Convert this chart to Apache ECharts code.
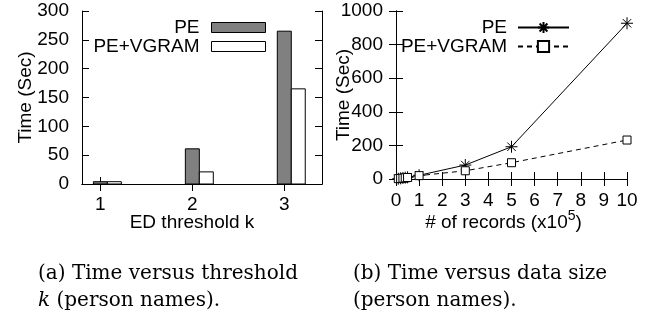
<!DOCTYPE html>
<html>
<head>
<meta charset="utf-8">
<script src="https://cdn.jsdelivr.net/npm/echarts@6/dist/echarts.min.js"></script>
<style>
html,body{margin:0;padding:0;background:#fff;}
#c{width:659px;height:322px;}
</style>
</head>
<body>
<div id="c"></div>
<script>
// ---- data (a): time vs threshold k ----
const kValues = [1, 2, 3];
const peTimeK = [4, 61, 265];
const vgramTimeK = [4, 21, 165];

// ---- data (b): time vs data size ----
const records = [0.1, 0.2, 0.3, 0.4, 0.5, 1, 3, 5, 10];
const peTimeN = [2, 4, 6, 8, 10, 22, 83, 192, 927];
const vgramTimeN = [2, 3, 5, 7, 9, 20, 49, 97, 232];

const FONT = 'Liberation Sans';
const FS = 19;
const BAR_W = 0.152;

function barRenderer(side) {
  return function (params, api) {
    const k = api.value(0), v = api.value(1);
    const base = api.coord([k, 0]);
    const top = api.coord([k, v]);
    const w = api.size([BAR_W, 0])[0];
    const x0 = side === 0 ? base[0] - w / 2 : base[0] + w / 2;
    return {
      type: 'rect',
      shape: { x: x0, y: top[1], width: w, height: base[1] - top[1] },
      style: api.style()
    };
  };
}

const axisLineStyle = { show: true, lineStyle: { color: '#000', width: 1 } };
const tickStyle = { show: true, inside: true, length: 7, lineStyle: { color: '#000', width: 1 } };
const lblStyle = { color: '#000', fontFamily: FONT, fontSize: FS };
const plain = function (v) { return String(v); };

const chart = echarts.init(document.getElementById('c'), null, { renderer: 'canvas' });
const option = {
  animation: false,
  backgroundColor: '#fff',
  textStyle: { fontFamily: FONT, color: '#000' },
  grid: [
    { left: 82, right: 337, top: 11, bottom: 138 },
    { left: 396, right: 32, top: 11, bottom: 143 }
  ],
  xAxis: [
    {
      gridIndex: 0, type: 'value', min: 0.8, max: 3.41, position: 'bottom',
      axisLine: axisLineStyle,
      axisTick: Object.assign({}, tickStyle, { customValues: kValues }),
      axisLabel: Object.assign({}, lblStyle, { customValues: kValues, margin: 11, formatter: plain }),
      splitLine: { show: false },
      name: 'ED threshold k', nameLocation: 'middle', nameGap: 29, nameMoveOverlap: false,
      nameTextStyle: { color: '#000', fontFamily: FONT, fontSize: FS, padding: [0, 20, 0, 0] }
    },
    {
      gridIndex: 0, type: 'value', min: 0.8, max: 3.41, position: 'top',
      axisLine: axisLineStyle,
      axisTick: Object.assign({}, tickStyle, { customValues: kValues }),
      axisLabel: { show: false },
      splitLine: { show: false }
    },
    {
      gridIndex: 1, type: 'value', min: 0, max: 10, interval: 1, position: 'bottom',
      axisLine: axisLineStyle,
      axisTick: tickStyle,
      axisLabel: Object.assign({}, lblStyle, { margin: 12, formatter: plain }),
      splitLine: { show: false },
      name: '# of records (x10{sup|5})', nameLocation: 'middle', nameGap: 30, nameMoveOverlap: false,
      nameTextStyle: {
        color: '#000', fontFamily: FONT, fontSize: FS, padding: [0, 16, 0, 0],
        rich: { sup: { fontFamily: FONT, fontSize: 14, verticalAlign: 'bottom', padding: [0, 0, 13, 0], color: '#000' } }
      }
    },
    {
      gridIndex: 1, type: 'value', min: 0, max: 10, interval: 1, position: 'top',
      axisLine: axisLineStyle,
      axisTick: tickStyle,
      axisLabel: { show: false },
      splitLine: { show: false }
    }
  ],
  yAxis: [
    {
      gridIndex: 0, type: 'value', min: 0, max: 300, interval: 50, position: 'left',
      axisLine: axisLineStyle, axisTick: tickStyle,
      axisLabel: Object.assign({}, lblStyle, { margin: 13, formatter: plain }),
      splitLine: { show: false },
      name: 'Time (Sec)', nameLocation: 'middle', nameGap: 47, nameMoveOverlap: false,
      nameTextStyle: { color: '#000', fontFamily: FONT, fontSize: FS }
    },
    {
      gridIndex: 0, type: 'value', min: 0, max: 300, interval: 50, position: 'right',
      axisLine: axisLineStyle, axisTick: tickStyle,
      axisLabel: { show: false }, splitLine: { show: false }
    },
    {
      gridIndex: 1, type: 'value', min: 0, max: 1000, interval: 200, position: 'left',
      axisLine: axisLineStyle, axisTick: tickStyle,
      axisLabel: Object.assign({}, lblStyle, { margin: 13, formatter: plain }),
      splitLine: { show: false },
      name: 'Time (Sec)', nameLocation: 'middle', nameGap: 43, nameMoveOverlap: false,
      nameTextStyle: { color: '#000', fontFamily: FONT, fontSize: FS }
    },
    {
      gridIndex: 1, type: 'value', min: 0, max: 1000, interval: 200, position: 'right',
      axisLine: axisLineStyle, axisTick: tickStyle,
      axisLabel: { show: false }, splitLine: { show: false }
    }
  ],
  legend: [
    {
      orient: 'vertical', right: 393, top: 18, align: 'right', itemGap: 0, padding: 0,
      itemWidth: 54, itemHeight: 10,
      textStyle: { color: '#000', fontFamily: FONT, fontSize: FS, lineHeight: 19, padding: [0, 7, 0, 0] },
      data: [
        { name: 'PE', icon: 'rect', itemStyle: { color: '#808080', borderColor: '#000', borderWidth: 1 } },
        { name: 'PE+VGRAM ', icon: 'rect', itemStyle: { color: '#fff', borderColor: '#000', borderWidth: 1 } }
      ],
      formatter: function (n) { return n.trim(); }
    },
    {
      orient: 'vertical', right: 89, top: 18, align: 'right', itemGap: 0, padding: 0,
      itemWidth: 51, itemHeight: 14,
      textStyle: { color: '#000', fontFamily: FONT, fontSize: FS, lineHeight: 17, padding: [0, 6, 0, 0] },
      data: ['PE', 'PE+VGRAM'].map(function (n) { return { name: n + '\u200b' }; }),
      formatter: function (n) { return n.replace('\u200b', ''); }
    }
  ],
  title: [
    {
      left: 33, top: 255,
      text: '(a) Time versus threshold\n{i|k} (person names).',
      textStyle: {
        fontFamily: 'DejaVu Serif', fontSize: 20, fontWeight: 'normal', color: '#000', lineHeight: 27,
        rich: { i: { fontFamily: 'DejaVu Serif', fontStyle: 'italic', fontSize: 20, lineHeight: 27 } }
      }
    },
    {
      left: 348, top: 255,
      text: '(b) Time versus data size\n(person names).',
      textStyle: { fontFamily: 'DejaVu Serif', fontSize: 20, fontWeight: 'normal', color: '#000', lineHeight: 27 }
    }
  ],
  series: [
    {
      name: 'PE', type: 'custom', xAxisIndex: 0, yAxisIndex: 0,
      renderItem: barRenderer(0), encode: { x: 0, y: 1 },
      itemStyle: { color: '#808080', borderColor: '#000', borderWidth: 1 },
      data: kValues.map(function (k, i) { return [k, peTimeK[i]]; })
    },
    {
      name: 'PE+VGRAM ', type: 'custom', xAxisIndex: 0, yAxisIndex: 0,
      renderItem: barRenderer(1), encode: { x: 0, y: 1 },
      itemStyle: { color: '#fff', borderColor: '#000', borderWidth: 1 },
      data: kValues.map(function (k, i) { return [k, vgramTimeK[i]]; })
    },
    {
      name: 'PE\u200b', type: 'line', xAxisIndex: 2, yAxisIndex: 2,
      symbol: 'path://M5 0L5 10M0 5L10 5M1.5 1.5L8.5 8.5M1.5 8.5L8.5 1.5',
      symbolSize: 12, showSymbol: true,
      lineStyle: { color: '#000', width: 1 },
      itemStyle: { color: 'none', borderColor: '#000', borderWidth: 1 },
      data: records.map(function (x, i) { return [x, peTimeN[i]]; })
    },
    {
      name: 'PE+VGRAM\u200b', type: 'line', xAxisIndex: 2, yAxisIndex: 2,
      symbol: 'rect', symbolSize: 8, showSymbol: true,
      lineStyle: { color: '#000', width: 1, type: [5, 4] },
      itemStyle: { color: '#fff', borderColor: '#000', borderWidth: 1 },
      data: records.map(function (x, i) { return [x, vgramTimeN[i]]; })
    }
  ]
};
chart.setOption(option);
</script>
</body>
</html>
